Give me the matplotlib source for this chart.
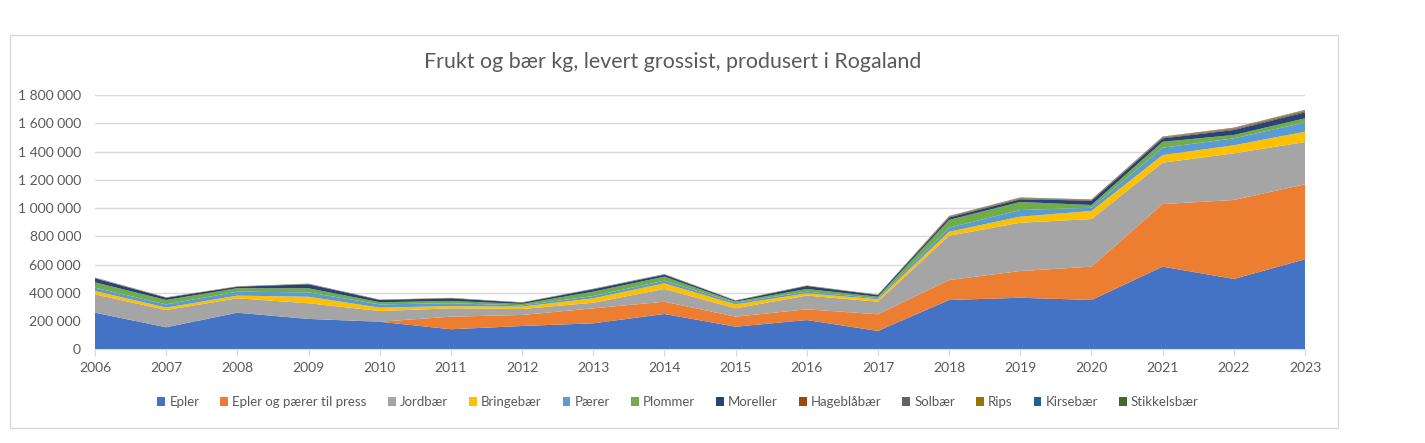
import numpy as np
import matplotlib.pyplot as plt
from matplotlib.patches import Rectangle
from matplotlib.ticker import FuncFormatter

plt.rcParams['font.family'] = ['Lato', 'DejaVu Sans']

years = list(range(2006, 2024))

# kg, lest av figuren (avrundet)
epler = [259, 156, 259, 215, 195, 142, 165, 184, 250, 160, 207, 130, 349, 365, 349, 585, 498, 637]
epler_press = [0, 0, 0, 0, 0, 89, 78, 106, 87, 71, 76, 118, 141, 189, 236, 443, 559, 531]
jordbaer = [130, 122, 102, 111, 76, 59, 42, 40, 90, 59, 97, 89, 314, 342, 337, 293, 330, 299]
bringebaer = [24, 17, 19, 46, 24, 16, 17, 31, 40, 28, 16, 17, 28, 43, 57, 54, 57, 73]
paerer = [23, 23, 28, 31, 23, 20, 9, 16, 19, 12, 12, 7, 29, 47, 23, 52, 49, 66]
plommer = [38, 31, 24, 29, 15, 16, 10, 31, 28, 7, 19, 11, 55, 57, 19, 42, 24, 29]
moreller = [28, 16, 11, 28, 16, 19, 9, 17, 14, 7, 21, 12, 17, 19, 31, 24, 35, 42]
hageblabaer = [1, 1, 1, 1, 1, 1, 1, 1, 1, 1, 1, 1, 4, 5, 3, 5, 6, 7]
solbaer = [2, 1, 1, 2, 1, 1, 1, 1, 2, 1, 1, 1, 3, 4, 3, 4, 5, 5]
rips = [1, 1, 1, 1, 1, 1, 1, 1, 1, 1, 1, 1, 2, 2, 1, 2, 3, 3]
kirsebaer = [1, 0, 0, 1, 0, 0, 0, 1, 1, 0, 1, 0, 1, 1, 1, 1, 2, 2]
stikkelsbaer = [1, 0, 0, 0, 0, 0, 0, 0, 0, 0, 0, 0, 1, 1, 1, 1, 1, 1]

names = ['Epler', 'Epler og pærer til press', 'Jordbær', 'Bringebær', 'Pærer', 'Plommer',
         'Moreller', 'Hageblåbær', 'Solbær', 'Rips', 'Kirsebær', 'Stikkelsbær']
series = [epler, epler_press, jordbaer, bringebaer, paerer, plommer,
          moreller, hageblabaer, solbaer, rips, kirsebaer, stikkelsbaer]
colors = ['#4472C4', '#ED7D31', '#A5A5A5', '#FFC000', '#5B9BD5', '#70AD47',
          '#264478', '#9E480E', '#636363', '#997300', '#255E91', '#43682B']

data = np.array(series) * 1000

fig = plt.figure(figsize=(14.25, 4.43), dpi=100)
fig.patches.append(Rectangle((10 / 1425, 1 - 428 / 443), 1328 / 1425, 393 / 443,
                             transform=fig.transFigure, fill=False,
                             edgecolor='#D9D9D9', linewidth=1))

ax = fig.add_axes([95 / 1425, 1 - 349.3 / 443, 1210 / 1425, 254.3 / 443])
ax.stackplot(years, data, colors=colors, labels=names, linewidth=0)

ax.set_xlim(2006, 2023)
ax.set_ylim(0, 1800000)
ax.set_yticks(np.arange(0, 1800001, 200000))
ax.yaxis.set_major_formatter(FuncFormatter(lambda v, p: f'{int(v):,}'.replace(',', ' ')))
ax.set_xticks(years)
ax.grid(axis='y', color='#D9D9D9', linewidth=1)
ax.set_axisbelow(True)
for s in ['top', 'right', 'left']:
    ax.spines[s].set_visible(False)
ax.spines['bottom'].set_color('#D9D9D9')
ax.tick_params(axis='y', length=0, labelsize=10, labelcolor='#595959', pad=10)
ax.tick_params(axis='x', length=5, color='#D9D9D9', labelsize=10, labelcolor='#595959', pad=4)

fig.text(673 / 1425, 1 - 62 / 443, 'Frukt og bær kg, levert grossist, produsert i Rogaland',
         ha='center', va='center', fontsize=15.4, color='#595959')

fig.legend(loc='center', bbox_to_anchor=(678 / 1425, 1 - 402 / 443), ncol=12, frameon=False,
           fontsize=9.5, labelcolor='#595959', handlelength=0.6, handleheight=0.6,
           handletextpad=0.3, columnspacing=1.6)

fig.savefig('out.png', dpi=100)
